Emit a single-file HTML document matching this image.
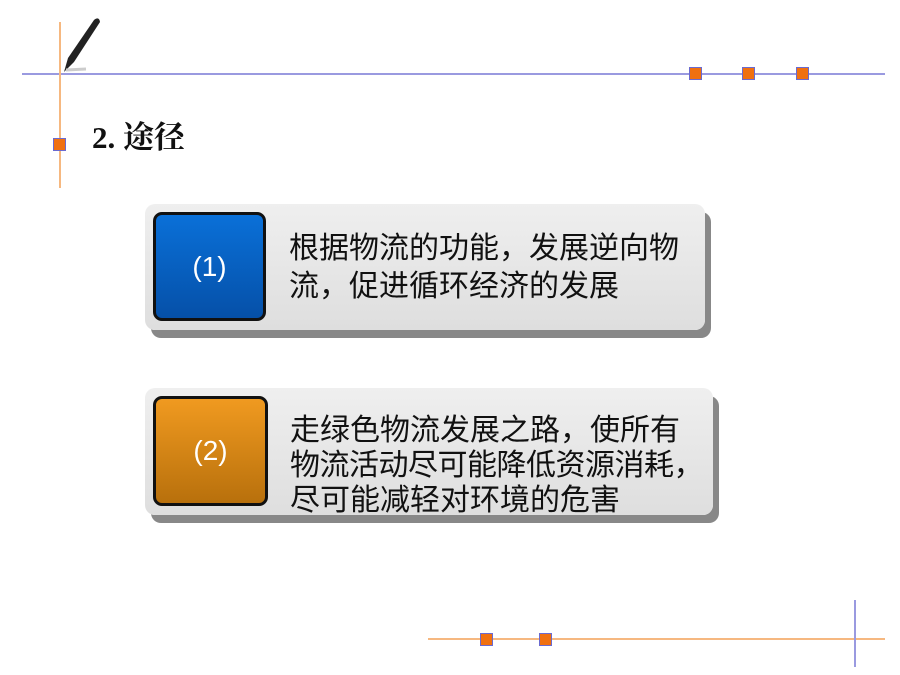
<!DOCTYPE html>
<html><head><meta charset="utf-8"><style>
body{margin:0;width:900px;height:675px;background:#fff;position:relative;overflow:hidden;font-family:"Liberation Sans","Noto Sans CJK SC",sans-serif}
.a{position:absolute}
.sq{position:absolute;width:11px;height:11px;background:#f07010;border:1px solid #6a6ad0}
.card{position:absolute;background:linear-gradient(#efefef,#dedede);border-radius:10px;box-shadow:6px 8px 0 #888}
.ic{position:absolute;border:3px solid #111;border-radius:9px;color:#fff;font-size:28px;display:flex;align-items:center;justify-content:center;box-sizing:border-box}
.tx{position:absolute;color:#111;font-family:"Liberation Sans","WenQuanYi Zen Hei","Noto Sans CJK SC",sans-serif;white-space:nowrap}
</style></head><body>
<div class="a" style="left:22px;top:73px;width:863px;height:2px;background:#9a9ae0"></div>
<div class="a" style="left:59px;top:22px;width:2px;height:166px;background:#f6b880"></div>
<div class="sq" style="left:689px;top:67px"></div>
<div class="sq" style="left:742px;top:67px"></div>
<div class="sq" style="left:796px;top:67px"></div>
<div class="sq" style="left:53px;top:138px"></div>
<svg class="a" style="left:56px;top:14px" width="50" height="62"><path d="M8 58 L12 44 L38 6 Q43 2 44 8 L18 48 Z" fill="#222"/><path d="M10 56 L30 55" stroke="#ccc" stroke-width="3"/></svg>
<div class="a" style="left:92px;top:112px;font-family:'Liberation Serif','Noto Serif CJK SC',serif;font-size:31px;color:#111;font-weight:bold">2. 途径</div>

<div class="card" style="left:145px;top:204px;width:560px;height:126px"></div>
<div class="ic" style="left:153px;top:212px;width:113px;height:109px;background:linear-gradient(#0a70d8,#0550a8)">(1)</div>
<div class="tx" style="left:289px;top:230px;font-size:30px;line-height:38px">根据物流的功能，发展逆向物<br>流，促进循环经济的发展</div>

<div class="card" style="left:145px;top:388px;width:568px;height:127px"></div>
<div class="ic" style="left:153px;top:396px;width:115px;height:110px;background:linear-gradient(#f09a20,#b8700c)">(2)</div>
<div class="tx" style="left:290px;top:413px;font-size:30px;line-height:35px">走绿色物流发展之路，使所有<br><span style="letter-spacing:-0.5px">物流活动尽可能降低资源消耗，</span><br>尽可能减轻对环境的危害</div>

<div class="a" style="left:428px;top:638px;width:457px;height:2px;background:#f6b880"></div>
<div class="a" style="left:854px;top:600px;width:2px;height:67px;background:#9a9ae0"></div>
<div class="sq" style="left:480px;top:633px"></div>
<div class="sq" style="left:539px;top:633px"></div>
</body></html>
